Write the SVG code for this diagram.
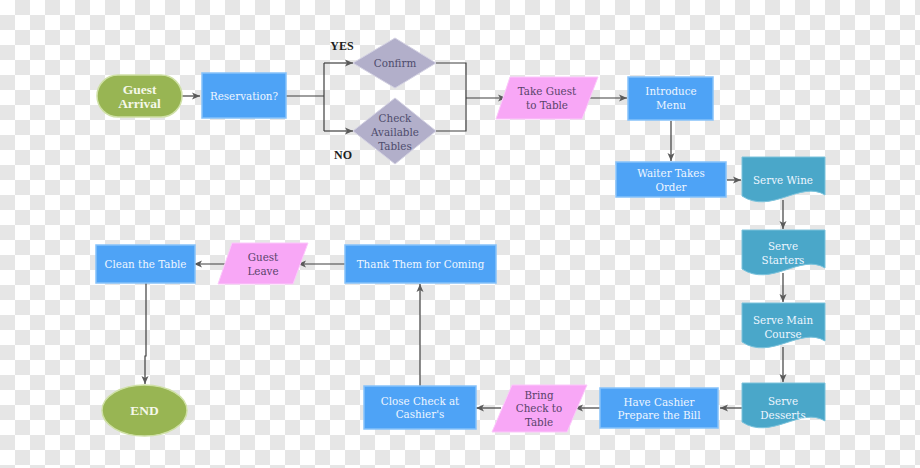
<svg xmlns="http://www.w3.org/2000/svg" width="920" height="468" viewBox="0 0 920 468">
<defs>
<pattern id="checker" width="30" height="30" patternUnits="userSpaceOnUse">
<rect width="30" height="30" fill="#ffffff"/>
<rect x="15" y="0" width="15" height="15" fill="#e6e6e6"/>
<rect x="0" y="15" width="15" height="15" fill="#e6e6e6"/>
</pattern>
<marker id="arr" markerWidth="9" markerHeight="8" refX="8" refY="4" orient="auto" markerUnits="userSpaceOnUse">
<path d="M0,0.5 L8,4 L0,7.5 L2,4 Z" fill="#5a5a5a"/>
</marker>
<path id="doc" d="M0,0 H83 V38 C59,23 29,58 0,39 Z"/>
</defs>
<style>
.conn{fill:none;stroke:#3f3f3f;stroke-width:1.2}
.box{fill:#4ea3f6;stroke:#86c2fa;stroke-width:1.5}
.docs{fill:#4aa7c9;stroke:#7cc3dc;stroke-width:1}
.term{fill:#98b553;stroke:#cfe0a6;stroke-width:1.5}
.dia{fill:#b2afca;stroke:#d3d1e2;stroke-width:1}
.para{fill:#f8a7f6;stroke:#fbc9fa;stroke-width:1}
text{font-family:"DejaVu Serif Condensed","Liberation Serif",serif;font-size:11.5px;text-anchor:middle;dominant-baseline:central}
.lt{fill:#eef6ff}
.dk{fill:#4e4c6c}
.pk{fill:#58436a}
.bd{font-family:"Liberation Serif",serif;font-weight:bold;fill:#f5f8ea;font-size:13.5px}
.lab{font-family:"Liberation Serif",serif;font-weight:bold;fill:#1e1e1e;font-size:12px}
</style>
<rect width="920" height="468" fill="url(#checker)"/>

<g id="connectors">
<path class="conn" d="M182,96 H200" marker-end="url(#arr)"/>
<path class="conn" d="M286,96 H324 M324,63 V131"/>
<path class="conn" d="M324,63 H353" marker-end="url(#arr)"/>
<path class="conn" d="M324,131 H353" marker-end="url(#arr)"/>
<path class="conn" d="M436,63 H466 V131 H436"/>
<path class="conn" d="M466,98 H506" marker-end="url(#arr)"/>
<path class="conn" d="M586,98 H627" marker-end="url(#arr)"/>
<path class="conn" d="M671,121 V161" marker-end="url(#arr)"/>
<path class="conn" d="M727,180 H741" marker-end="url(#arr)"/>
<path class="conn" d="M783,200 V229" marker-end="url(#arr)"/>
<path class="conn" d="M783,273 V302" marker-end="url(#arr)"/>
<path class="conn" d="M783,347 V382" marker-end="url(#arr)"/>
<path class="conn" d="M742,408 H720" marker-end="url(#arr)"/>
<path class="conn" d="M600,408 H575" marker-end="url(#arr)"/>
<path class="conn" d="M501,408 H476" marker-end="url(#arr)"/>
<path class="conn" d="M420,386 V284" marker-end="url(#arr)"/>
<path class="conn" d="M345,264 H298" marker-end="url(#arr)"/>
<path class="conn" d="M227,264 H194" marker-end="url(#arr)"/>
<path class="conn" d="M146,283 V356 H145 V384" marker-end="url(#arr)"/>
</g>

<g id="guest-arrival">
<rect class="term" x="97" y="75" width="85" height="42" rx="21"/>
<text class="bd" x="139.5" y="89">Guest</text>
<text class="bd" x="139.5" y="103">Arrival</text>
</g>

<g id="reservation">
<rect class="box" x="202" y="73" width="84" height="45"/>
<text class="lt" x="244" y="96">Reservation?</text>
</g>

<g id="confirm">
<polygon class="dia" points="353,63 395,38 436,63 395,88"/>
<text class="dk" x="395" y="63">Confirm</text>
</g>

<g id="check-available">
<polygon class="dia" points="353,131 395,98 436,131 395,164"/>
<text class="dk" x="395" y="117.5">Check</text>
<text class="dk" x="395" y="131.5">Available</text>
<text class="dk" x="395" y="145.5">Tables</text>
</g>

<g id="label-yes"><text class="lab" x="342" y="46">YES</text></g>
<g id="label-no"><text class="lab" x="343" y="155">NO</text></g>

<g id="take-guest">
<polygon class="para" points="510,77 598,77 582,119 496,119"/>
<text class="pk" x="547" y="91">Take Guest</text>
<text class="pk" x="547" y="105">to Table</text>
</g>

<g id="introduce-menu">
<rect class="box" x="628" y="77" width="85" height="43"/>
<text class="lt" x="671" y="91">Introduce</text>
<text class="lt" x="671" y="105">Menu</text>
</g>

<g id="waiter-takes-order">
<rect class="box" x="616" y="162" width="110" height="35"/>
<text class="lt" x="671" y="172.5">Waiter Takes</text>
<text class="lt" x="671" y="186.5">Order</text>
</g>

<g id="serve-wine">
<use href="#doc" class="docs" x="742" y="157"/>
<text class="lt" x="783" y="180">Serve Wine</text>
</g>

<g id="serve-starters">
<use href="#doc" class="docs" x="742" y="230"/>
<text class="lt" x="783" y="245.5">Serve</text>
<text class="lt" x="783" y="259.5">Starters</text>
</g>

<g id="serve-main-course">
<use href="#doc" class="docs" x="742" y="303"/>
<text class="lt" x="783" y="319.5">Serve Main</text>
<text class="lt" x="783" y="333.5">Course</text>
</g>

<g id="serve-desserts">
<use href="#doc" class="docs" x="742" y="383"/>
<text class="lt" x="783" y="401">Serve</text>
<text class="lt" x="783" y="415">Desserts</text>
</g>

<g id="have-cashier">
<rect class="box" x="600" y="388" width="118" height="40"/>
<text class="lt" x="659" y="401.5">Have Cashier</text>
<text class="lt" x="659" y="415">Prepare the Bill</text>
</g>

<g id="bring-check">
<polygon class="para" points="512,385 587,385 567,432 492,432"/>
<text class="pk" x="539" y="394.5">Bring</text>
<text class="pk" x="539" y="408">Check to</text>
<text class="pk" x="539" y="421.5">Table</text>
</g>

<g id="close-check">
<rect class="box" x="364" y="386" width="112" height="43"/>
<text class="lt" x="420" y="400.5">Close Check at</text>
<text class="lt" x="420" y="414">Cashier's</text>
</g>

<g id="thank-them">
<rect class="box" x="345" y="245" width="151" height="38"/>
<text class="lt" x="420.5" y="264">Thank Them for Coming</text>
</g>

<g id="guest-leave">
<polygon class="para" points="232,243 308,243 293,284 218,284"/>
<text class="pk" x="263" y="256.5">Guest</text>
<text class="pk" x="263" y="270.5">Leave</text>
</g>

<g id="clean-table">
<rect class="box" x="96" y="245" width="99" height="38"/>
<text class="lt" x="145.5" y="264">Clean the Table</text>
</g>

<g id="end">
<ellipse class="term" cx="144.5" cy="410.5" rx="42.5" ry="25.5"/>
<text class="bd" x="144.5" y="410.5">END</text>
</g>
</svg>
